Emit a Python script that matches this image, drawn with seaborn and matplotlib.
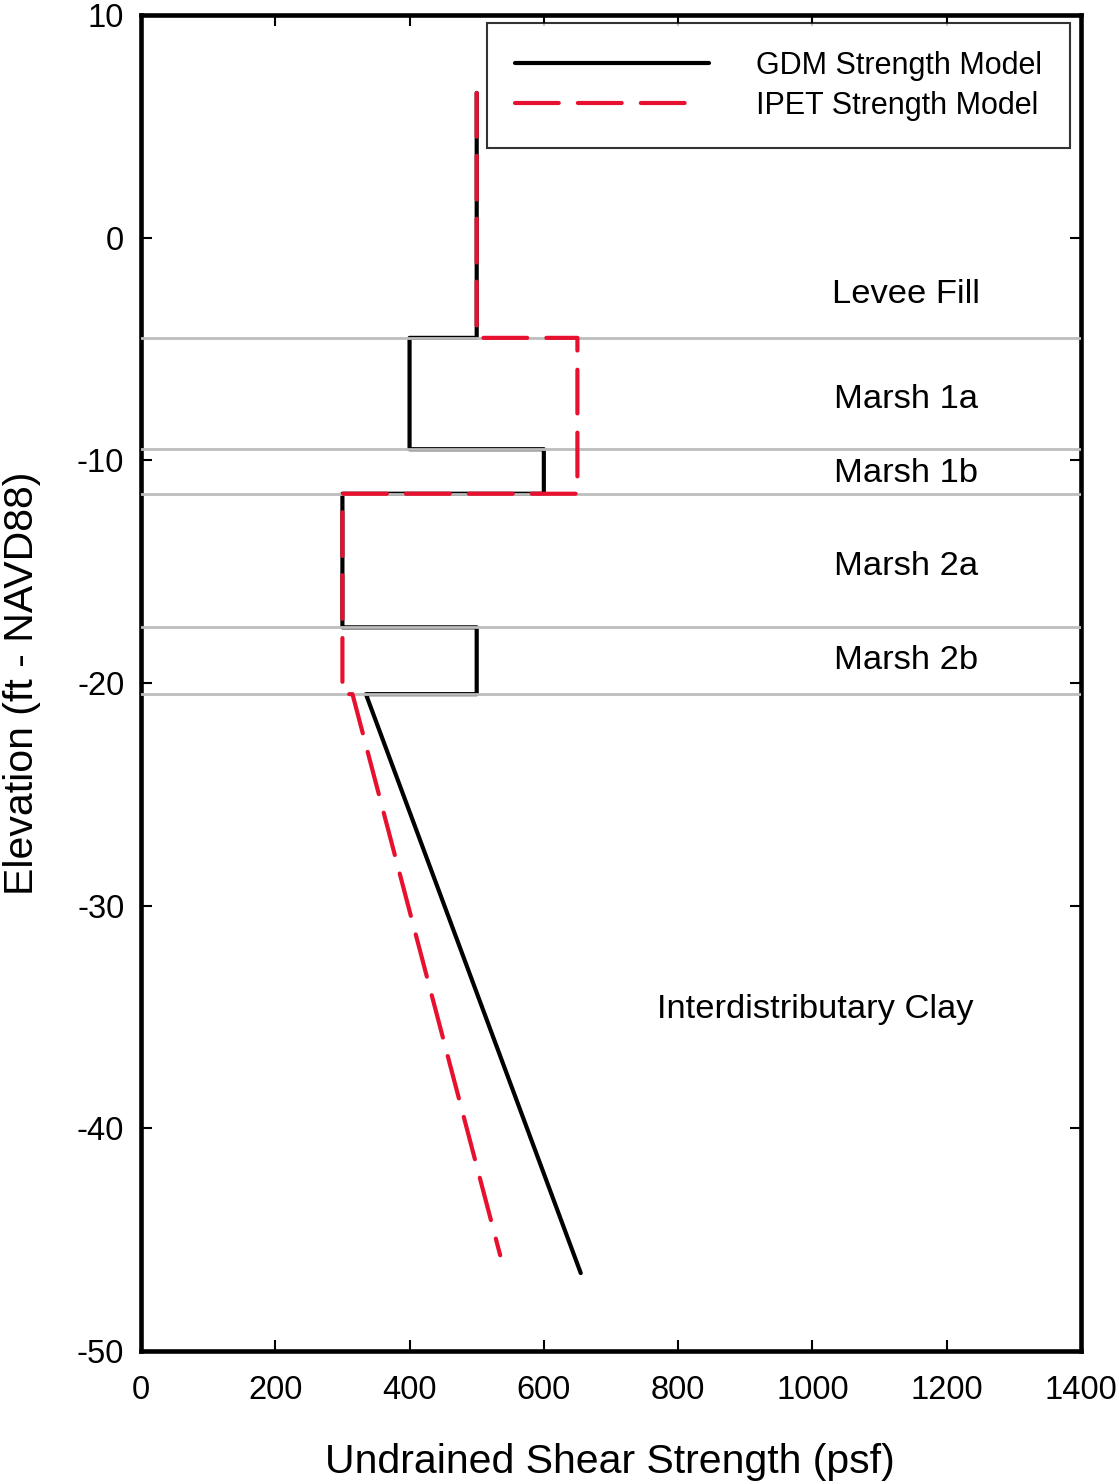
import matplotlib
matplotlib.use("Agg")
import matplotlib.pyplot as plt
import seaborn as sns
import pandas as pd

# Strength profiles (elevation in ft NAVD88, undrained shear strength in psf)
gdm_strength = [500, 500, 400, 400, 600, 600, 300, 300, 500, 500, 335, 655]
gdm_elevation = [6.5, -4.5, -4.5, -9.5, -9.5, -11.5, -11.5, -17.5, -17.5, -20.5, -20.5, -46.5]

ipet_strength = [500, 500, 650, 650, 300, 300, 315, 535]
ipet_elevation = [6.5, -4.5, -4.5, -11.5, -11.5, -20.5, -20.5, -45.7]

# Layer boundaries
layer_bounds = [-4.5, -9.5, -11.5, -17.5, -20.5]

# Layer names and label anchor points
layer_names = ["Levee Fill", "Marsh 1a", "Marsh 1b", "Marsh 2a", "Marsh 2b",
               "Interdistributary Clay"]
layer_label_x = [1140, 1140, 1140, 1140, 1140, 1004]
layer_label_y = [-2.93, -7.65, -10.97, -15.15, -19.37, -35.04]

x_ticks = [0, 200, 400, 600, 800, 1000, 1200, 1400]
y_ticks = [10, 0, -10, -20, -30, -40, -50]

sns.set_theme(style="ticks")
plt.rcParams["font.family"] = ["Liberation Sans", "DejaVu Sans"]
plt.rcParams["axes.unicode_minus"] = False
plt.rcParams["text.color"] = "black"
plt.rcParams["axes.labelcolor"] = "black"

fig = plt.figure(figsize=(11.19, 14.84), dpi=100)
ax = fig.add_axes([0.126, 0.0896, 0.840, 0.9003])

gdm = pd.DataFrame({"Su": gdm_strength, "Elev": gdm_elevation})
ipet = pd.DataFrame({"Su": ipet_strength, "Elev": ipet_elevation})

sns.lineplot(data=gdm, x="Su", y="Elev", sort=False, estimator=None,
             color="black", linewidth=3.0, ax=ax, zorder=3,
             solid_capstyle="round", label="GDM Strength Model")

for yb in layer_bounds:
    ax.axhline(yb, color="#bdbdbd", linewidth=2.0, zorder=4)

sns.lineplot(data=ipet, x="Su", y="Elev", sort=False, estimator=None,
             color="#e8102f", linewidth=3.0, ax=ax, zorder=5,
             linestyle=(0, (10.5, 4.6)), dash_capstyle="round",
             label="IPET Strength Model")

for name, lx, ly in zip(layer_names, layer_label_x, layer_label_y):
    ax.text(lx, ly, name, ha="center", va="baseline", fontsize=24.8, color="black")

ax.set_xlim(0, 1400)
ax.set_ylim(-50, 10)
ax.set_xticks(x_ticks)
ax.set_yticks(y_ticks)
ax.tick_params(axis="both", direction="in", length=8, width=1.5,
               labelsize=23.5, top=True, right=True, colors="black")
ax.tick_params(axis="x", pad=17)
ax.tick_params(axis="y", pad=12)

for sp in ax.spines.values():
    sp.set_linewidth(3.3)
    sp.set_color("black")
    sp.set_visible(True)

ax.set_xlabel("Undrained Shear Strength (psf)", fontsize=29.5, color="black")
ax.set_ylabel("Elevation (ft - NAVD88)", fontsize=29.5, color="black")
ax.xaxis.label.set_va("center")
ax.yaxis.label.set_va("center")
ax.xaxis.set_label_coords(0.499, -0.083)
ax.yaxis.set_label_coords(-0.1266, 0.5)

leg = ax.legend(loc="upper right", bbox_to_anchor=(0.988, 0.994),
                borderaxespad=0, fontsize=22, handlelength=6.35,
                handletextpad=1.55, borderpad=0.9, labelspacing=0.33,
                frameon=True, fancybox=False, edgecolor="black")
leg.get_frame().set_linewidth(1.5)
for t in leg.get_texts():
    t.set_color("black")

# End the dashed legend sample on a whole dash
dash_handle = leg.legend_handles[1]
xd = list(dash_handle.get_xdata())
dash_handle.set_xdata([xd[0], xd[0] + 0.91 * (xd[-1] - xd[0])])
dash_handle.set_ydata(list(dash_handle.get_ydata())[:1] * 2)

fig.savefig("out.png", dpi=100, facecolor="white")
